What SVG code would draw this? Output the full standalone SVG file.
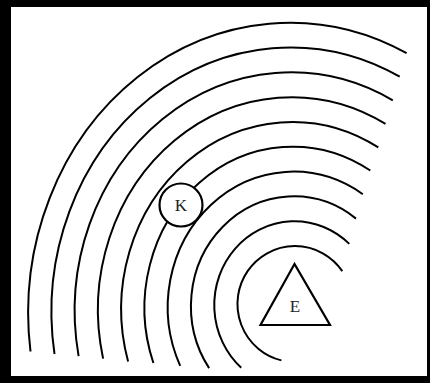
<svg xmlns="http://www.w3.org/2000/svg" width="430" height="383" viewBox="0 0 430 383">
<style>
.wave{fill:none;stroke:#000;stroke-width:2}
.shape{fill:#fff;stroke:#000;stroke-width:2.2}
.lbl{font-family:"Liberation Serif","Times New Roman",serif;font-size:17px;fill:#222;text-anchor:middle}
</style>
<rect x="0" y="0" width="430" height="383" fill="#000"/>
<rect x="11" y="7" width="416" height="369" fill="#fff"/>
<g id="waves">
<path class="wave" d="M281.4,360.4 A57.5,58 0 1 1 342.3,271.1"/>
<path class="wave" d="M241.2,367.7 A80.2,83.8 0 1 1 349.3,243.9"/>
<path class="wave" d="M209.1,368.1 A102.9,109.6 0 0 1 356,218.6"/>
<path class="wave" d="M180.2,365.8 A125.6,135.4 0 0 1 362.8,194.2"/>
<path class="wave" d="M153.4,363 A148.3,161.2 0 0 1 370.3,170.5"/>
<path class="wave" d="M128.1,361.5 A171,187 0 0 1 378.3,147.4"/>
<path class="wave" d="M103.1,358.6 A193.7,212.8 0 0 1 385.5,123.8"/>
<path class="wave" d="M78.6,356.1 A216.4,238.6 0 0 1 392.8,100.4"/>
<path class="wave" d="M54.5,354 A239.1,264.4 0 0 1 399.7,76.7"/>
<path class="wave" d="M30.5,351.5 A261.8,290.2 0 0 1 406.6,53.2"/>
</g>
<g id="K">
<circle class="shape" cx="181" cy="205" r="21.5"/>
<text class="lbl" x="181" y="211">K</text>
</g>
<g id="E">
<polygon class="shape" points="294.5,264 260.5,325 330,325"/>
<text class="lbl" x="295" y="312">E</text>
</g>
</svg>
